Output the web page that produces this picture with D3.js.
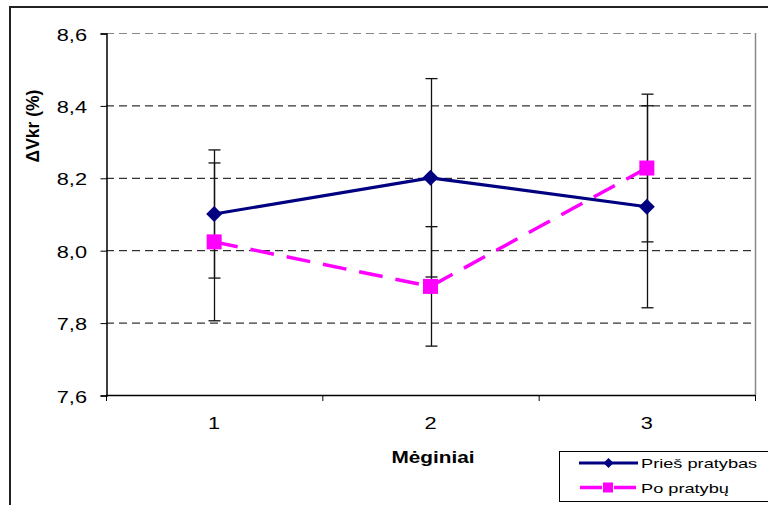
<!DOCTYPE html>
<html>
<head>
<meta charset="utf-8">
<script src="https://cdn.jsdelivr.net/npm/d3@7"></script>
<style>
  html, body { margin: 0; padding: 0; background: #fff; }
  svg { display: block; font-family: "Liberation Sans", Arial, sans-serif; }
</style>
</head>
<body>
<svg id="chart" width="768" height="505"></svg>
<script>
const categories = ["1", "2", "3"];
const seriesNames = ["Prieš pratybas", "Po pratybų"];
const priesValues = [8.10, 8.20, 8.12];
const priesErrors = [0.177, 0.274, 0.279];
const poValues = [8.023, 7.90, 8.227];
const poErrors = [0.218, 0.165, 0.204];
const yTicks = [7.6, 7.8, 8.0, 8.2, 8.4, 8.6];
const yTitle = "\u0394Vkr (%)";
const xTitle = "Mėginiai";

(function () {
const svg = d3.select("#chart");
const pLeft = 106, pRight = 755, pTop = 33, pBottom = 395;
const SX = 1.36; // horizontal stretch of text in the original picture

// stretched text helper
function sText(parent, px, py, str, size, anchor, weight, sx) {
  return parent.append("text")
    .attr("transform", `translate(${px},${py}) scale(${sx || SX},1)`)
    .attr("text-anchor", anchor || "start")
    .attr("font-size", size)
    .attr("font-weight", weight || "normal")
    .attr("fill", "#000")
    .text(str);
}

// outer frame
svg.append("path")
  .attr("d", `M10,510 L10,7 L770,7`)
  .attr("fill", "none").attr("stroke", "#222").attr("stroke-width", 2);

const x = d3.scaleBand().domain(categories).range([pLeft, pRight]).padding(0);
const y = d3.scaleLinear().domain([7.6, 8.6]).range([pBottom, pTop]);

// gridlines
svg.append("g").selectAll("line").data(yTicks.filter(t => t > 7.6)).join("line")
  .attr("x1", pLeft).attr("x2", pRight)
  .attr("y1", d => y(d) + 0.5).attr("y2", d => y(d) + 0.5)
  .attr("stroke", d => d === 8.6 ? "#888" : "#000")
  .attr("stroke-width", 1)
  .attr("stroke-dasharray", "8,5");

// right border (gray)
svg.append("line").attr("x1", pRight + 0.5).attr("x2", pRight + 0.5)
  .attr("y1", pTop).attr("y2", pBottom).attr("stroke", "#888").attr("stroke-width", 1.5);

// y axis
const yAxis = d3.axisLeft(y).tickValues(yTicks).tickSize(6).tickFormat("");
const gy = svg.append("g").attr("transform", `translate(${pLeft + 0.5},0.5)`).call(yAxis);
gy.select(".domain").attr("stroke", "#000").attr("stroke-width", 1.5);
gy.selectAll(".tick line").attr("stroke", "#000");
const fmt = d => d3.format(".1f")(d).replace(".", ",");
const gyl = svg.append("g");
yTicks.forEach(t => sText(gyl, 87, y(t) + 7.5, fmt(t), 16, "end"));

// x axis (ticks at band boundaries)
const xEdges = categories.map(c => x(c)).concat([pRight]);
svg.append("line").attr("x1", pLeft).attr("x2", pRight)
  .attr("y1", pBottom + 0.5).attr("y2", pBottom + 0.5)
  .attr("stroke", "#000").attr("stroke-width", 1.5);
svg.append("g").selectAll("line").data(xEdges).join("line")
  .attr("x1", d => d + 0.5).attr("x2", d => d + 0.5)
  .attr("y1", pBottom).attr("y2", pBottom + 6)
  .attr("stroke", "#000");
const gxl = svg.append("g");
categories.forEach(c => sText(gxl, x(c) + x.bandwidth() / 2, 429, c, 16, "middle"));

// titles
sText(svg, 433, 463, xTitle, 16, "middle", "bold", 1.3);
svg.append("text")
  .attr("transform", `translate(39,126) rotate(-90)`)
  .attr("text-anchor", "middle").attr("font-size", 17.5).attr("font-weight", "bold")
  .attr("fill", "#000")
  .text(yTitle);

const cx = c => x(c) + x.bandwidth() / 2;

// error bars
function errorBars(vals, errs) {
  const g = svg.append("g");
  categories.forEach((c, i) => {
    const xc = Math.round(cx(c)) + 0.5;
    const y1 = y(vals[i] + errs[i]), y2 = y(vals[i] - errs[i]);
    g.append("line").attr("x1", xc).attr("x2", xc).attr("y1", y1).attr("y2", y2)
      .attr("stroke", "#111").attr("stroke-width", 1.3);
    [y1, y2].forEach(yy => g.append("line")
      .attr("x1", xc - 6).attr("x2", xc + 6).attr("y1", yy).attr("y2", yy)
      .attr("stroke", "#111").attr("stroke-width", 1.3));
  });
}
errorBars(priesValues, priesErrors);
errorBars(poValues, poErrors);

const line = d3.line().x((d, i) => cx(categories[i])).y(d => y(d));

// Po pratybų series
svg.append("path").datum(poValues).attr("d", line)
  .attr("fill", "none").attr("stroke", "#FF00FF").attr("stroke-width", 3.5)
  .attr("stroke-dasharray", "24,13");
svg.append("g").selectAll("rect").data(poValues).join("rect")
  .attr("x", (d, i) => cx(categories[i]) - 7.5).attr("y", d => y(d) - 7.5)
  .attr("width", 15).attr("height", 15).attr("fill", "#FF00FF");

// Prieš pratybas series
svg.append("path").datum(priesValues).attr("d", line)
  .attr("fill", "none").attr("stroke", "#000080").attr("stroke-width", 3.2);
const diamond = (px, py, r) => `M${px},${py - r}L${px + r},${py}L${px},${py + r}L${px - r},${py}Z`;
svg.append("g").selectAll("path").data(priesValues).join("path")
  .attr("d", (d, i) => diamond(cx(categories[i]), y(d), 8))
  .attr("fill", "#000080");

// legend
const lg = svg.append("g");
lg.append("rect").attr("x", 559.5).attr("y", 451.5).attr("width", 220).attr("height", 50)
  .attr("fill", "#fff").attr("stroke", "#000").attr("stroke-width", 1);
const rows = [463, 487.5];
lg.append("line").attr("x1", 579).attr("x2", 638).attr("y1", rows[0]).attr("y2", rows[0])
  .attr("stroke", "#000080").attr("stroke-width", 3);
lg.append("path").attr("d", diamond(608.5, rows[0], 5)).attr("fill", "#000080");
lg.append("line").attr("x1", 580).attr("x2", 638).attr("y1", rows[1]).attr("y2", rows[1])
  .attr("stroke", "#FF00FF").attr("stroke-width", 3.5).attr("stroke-dasharray", "22,12");
lg.append("rect").attr("x", 603).attr("y", rows[1] - 5).attr("width", 10).attr("height", 10)
  .attr("fill", "#FF00FF");
seriesNames.forEach((s, i) => sText(lg, 641, rows[i] + 5, s, 13, "start", "normal", 1.4));
})();
</script>
</body>
</html>
